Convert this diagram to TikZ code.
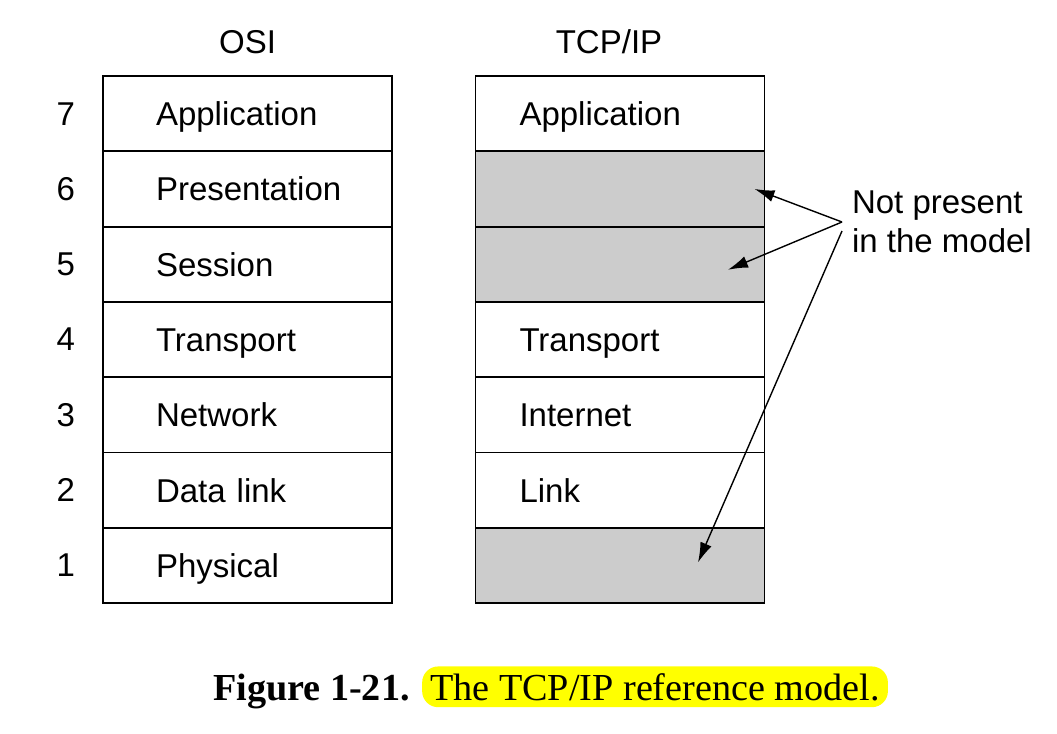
\documentclass[tikz,border=0pt]{standalone}
\usepackage{fontspec}
\setmainfont{Liberation Sans}
\newfontfamily\captionserif{Liberation Serif}
\usetikzlibrary{positioning, arrows.meta}
\definecolor{absent}{gray}{0.8}
\definecolor{marker}{RGB}{255,255,0}
\tikzset{
  osilayer/.style={rectangle, draw=black, line width=0.9pt, outer sep=0pt, minimum width=144.5pt, minimum height=37.65pt, text width=91.5pt, inner xsep=26.5pt, text height=15pt, text depth=3.15pt, align=left},
  tcplayer/.style={osilayer, text width=100.5pt, inner xsep=22pt},
  missing/.style={tcplayer, fill=absent},
  pointer/.style={line width=0.7pt, -{Latex[length=10pt,width=6pt]}}
}

\begin{document}
\begin{tikzpicture}[x=0.5pt, y=-0.5pt, every node/.style={font=\fontsize{16.5}{19.5}\selectfont}]
    \useasboundingbox (0,0) rectangle (1057,734);

    % OSI
    \node (osi7) [osilayer] at (247.5,113.65) {Application};
    \node (osi6) [osilayer, below=0pt of osi7] {Presentation};
    \node (osi5) [osilayer, below=0pt of osi6] {Session};
    \node (osi4) [osilayer, below=0pt of osi5] {Transport};
    \node (osi3) [osilayer, below=0pt of osi4] {Network};
    \node (osi2) [osilayer, below=0pt of osi3] {Data link};
    \node (osi1) [osilayer, below=0pt of osi2] {Physical};

    \node (n7) [left=10.5pt of osi7] {7};
    \node (n6) [left=10.5pt of osi6] {6};
    \node (n5) [left=10.5pt of osi5] {5};
    \node (n4) [left=10.5pt of osi4] {4};
    \node (n3) [left=10.5pt of osi3] {3};
    \node (n2) [left=10.5pt of osi2] {2};
    \node (n1) [left=10.5pt of osi1] {1};

    % TCP/IP
    \node (tcp7) [tcplayer] at (620,113.65) {Application};
    \node (tcp6) [missing, below=0pt of tcp7] {};
    \node (tcp5) [missing, below=0pt of tcp6] {};
    \node (tcp4) [tcplayer, below=0pt of tcp5] {Transport};
    \node (tcp3) [tcplayer, below=0pt of tcp4] {Internet};
    \node (tcp2) [tcplayer, below=0pt of tcp3] {Link};
    \node (tcp1) [missing, below=0pt of tcp2] {};

    \node (osititle) [above=7.5pt of osi7] {OSI};
    \node (tcptitle) [above=7.5pt of tcp7, xshift=-5.5pt] {TCP/IP};

    % Capas ausentes
    \node (note) [anchor=west, align=left] at (845,222) {Not present\\in the model};
    \coordinate (fork) at ([xshift=-1.5pt]note.west);
    \draw [pointer] (fork) -- ([xshift=-5pt]tcp6.east);
    \draw [pointer] (fork) -- ([xshift=54pt,yshift=-2.75pt]tcp5.center);
    \draw [pointer] ([yshift=-4.5pt]fork) -- ([xshift=39pt,yshift=1.5pt]tcp1.center);

    % Leyenda
    \node (figtag) [anchor=base west, font=\captionserif\bfseries\fontsize{19.1}{23}\selectfont] at (206,700) {Figure 1-21.};
    \node (figtitle) [base right=2.5pt of figtag, fill=marker, rounded corners=8pt, inner xsep=4pt, minimum height=20pt, font=\captionserif\fontsize{19.1}{23}\selectfont] {The TCP/IP reference model.};
\end{tikzpicture}
\end{document}
